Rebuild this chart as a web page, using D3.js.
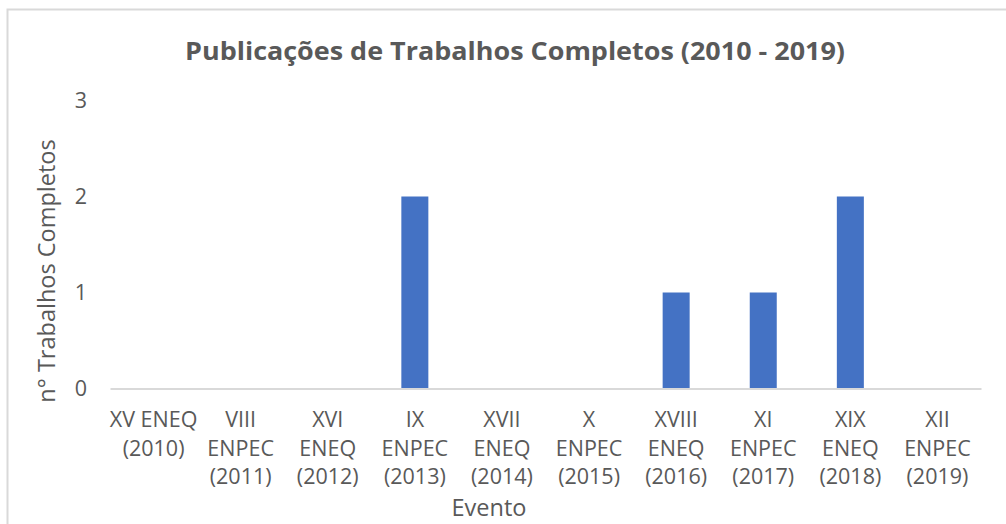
<!DOCTYPE html>
<html>
<head>
<meta charset="utf-8">
<script src="https://cdn.jsdelivr.net/npm/d3@7"></script>
<style>
  body { margin: 0; background: #fff; }
  text { font-family: "Open Sans", sans-serif; fill: #595959; }
</style>
</head>
<body>
<svg id="chart" width="1006" height="524"></svg>
<script>
// data (line breaks as in the picture)
const categorias = ["XV ENEQ\n(2010)", "VIII\nENPEC\n(2011)", "XVI\nENEQ\n(2012)", "IX\nENPEC\n(2013)",
                    "XVII\nENEQ\n(2014)", "X\nENPEC\n(2015)", "XVIII\nENEQ\n(2016)", "XI\nENPEC\n(2017)",
                    "XIX\nENEQ\n(2018)", "XII\nENPEC\n(2019)"];
const trabalhos = [0, 0, 0, 2, 0, 0, 1, 1, 2, 0];
const yTicks = [0, 1, 2, 3];

const svg = d3.select("#chart");
const margin = { top: 100.5, right: 25, bottom: 135.5, left: 110 },
  w = 1006 - margin.left - margin.right,
  h = 524 - margin.top - margin.bottom;

// chart area border (only left and top visible in the crop)
svg.append("path")
  .attr("d", "M7.5,524 V9.5 H1006")
  .attr("fill", "none").attr("stroke", "#d9d9d9").attr("stroke-width", 2);

const g = svg.append("g").attr("transform", `translate(${margin.left},${margin.top})`);

const x = d3.scaleBand().domain(categorias).range([0, w]).paddingInner(0.69).paddingOuter(0.345);
const y = d3.scaleLinear().domain([0, 3]).range([h, 0]);

// bars
g.selectAll("rect").data(trabalhos).join("rect")
  .attr("x", (d, i) => x(categorias[i]))
  .attr("width", x.bandwidth())
  .attr("y", d => y(d))
  .attr("height", d => h - y(d))
  .attr("fill", "#4472c4");

// x axis
const xAxis = g.append("g").attr("transform", `translate(0,${h})`)
  .call(d3.axisBottom(x).tickSize(0).tickPadding(0));
xAxis.select(".domain").attr("stroke", "#d9d9d9").attr("stroke-width", 2);
xAxis.selectAll(".tick text")
  .style("font-size", "21.5px").style("font-family", "'Open Sans', sans-serif").attr("fill", "#595959")
  .attr("y", 38.5).attr("dy", null)
  .each(function (d) {
    const t = d3.select(this).text(null);
    d.split("\n").forEach((l, k) => {
      t.append("tspan").attr("x", 0).attr("dy", k === 0 ? 0 : 28.5).text(l);
    });
  });

// y axis labels
const yAxis = g.append("g")
  .call(d3.axisLeft(y).tickValues(yTicks).tickFormat(d3.format("d")).tickSize(0).tickPadding(23));
yAxis.select(".domain").remove();
yAxis.selectAll("text").style("font-size", "21.5px").style("font-family", "'Open Sans', sans-serif").attr("fill", "#595959");

// axis titles
svg.append("text")
  .attr("transform", `translate(55,271) rotate(-90)`)
  .attr("text-anchor", "middle")
  .style("font-size", "23.5px")
  .text("n° Trabalhos Completos");

svg.append("text")
  .attr("x", 489).attr("y", 516)
  .attr("text-anchor", "middle")
  .style("font-size", "23.5px")
  .text("Evento");

// chart title
svg.append("text")
  .attr("x", 515).attr("y", 60)
  .attr("text-anchor", "middle")
  .style("font-size", "25px").style("font-weight", "bold")
  .attr("textLength", 660).attr("lengthAdjust", "spacingAndGlyphs")
  .text("Publicações de Trabalhos Completos (2010 - 2019)");
</script>
</body>
</html>
